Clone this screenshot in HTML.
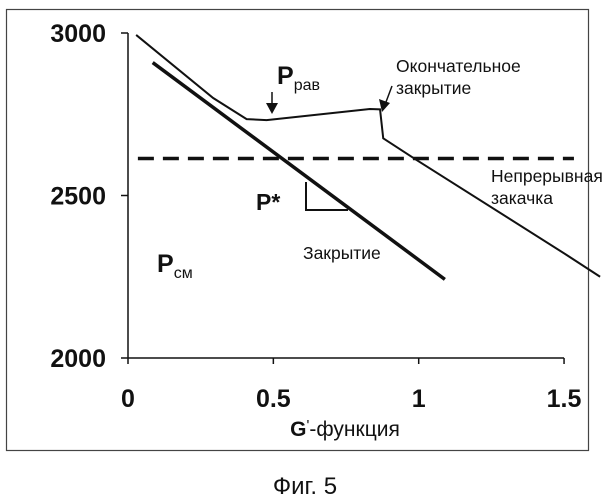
<!DOCTYPE html>
<html><head><meta charset="utf-8"><style>
body{margin:0;background:#fff}
svg{display:block}
text{font-family:"Liberation Sans",Arial,sans-serif;fill:#111}
</style></head><body>
<svg width="612" height="500" viewBox="0 0 612 500">
<rect x="6.5" y="9.5" width="582" height="441" fill="none" stroke="#444" stroke-width="1.2"/>
<g id="axes"></g>
<g id="marks"></g>
<text x="345" y="436" font-size="21" text-anchor="middle"><tspan font-weight="bold">G</tspan><tspan font-size="15" dy="-6">'</tspan><tspan dy="6">-функция</tspan></text>
<text x="305" y="494" font-size="24" text-anchor="middle">Фиг. 5</text>
<text x="277" y="84" font-size="25" font-weight="bold">P<tspan font-size="16" font-weight="normal" dy="6">рав</tspan></text>
<text x="396" y="72" font-size="17.5">Окончательное</text>
<text x="396" y="94" font-size="17.5">закрытие</text>
<text x="491" y="182" font-size="17.5">Непрерывная</text>
<text x="491" y="204" font-size="17.5">закачка</text>
<text x="303" y="259" font-size="17.5">Закрытие</text>
<text x="256" y="210" font-size="23" font-weight="bold">P*</text>
<text x="157" y="272" font-size="25" font-weight="bold">P<tspan font-size="16" font-weight="normal" dy="6">см</tspan></text>
</svg>
<script>
const xTicks=[0,0.5,1,1.5];
const xTickLabels=["0","0.5","1","1.5"];
const yTicks=[2000,2500,3000];
const yTickLabels=["2000","2500","3000"];
const injX=[0.028,0.293,0.408,0.477,0.832,0.867,0.878,0.993,1.509,1.624];
const injY=[2994,2800,2735,2732,2766,2765,2676,2609,2317,2250];
const closeX=[0.085,1.09];
const closeY=[2909,2242];
const dashX=[0.034,1.534];
const dashY=[2614,2614];
const X=v=>128+v*290.7;
const Y=v=>358-(v-2000)*0.325;
const NS="http://www.w3.org/2000/svg";
function mk(tag,attrs,parent){const e=document.createElementNS(NS,tag);for(const k in attrs)e.setAttribute(k,attrs[k]);parent.appendChild(e);return e;}
const ax=document.getElementById('axes'),mg=document.getElementById('marks');
let e=mk('line',{x1:X(0),y1:Y(3000),x2:X(0),y2:Y(2000),stroke:'#111','stroke-width':1.5},ax);


e=mk('line',{x1:X(0),y1:Y(2000),x2:X(1.5),y2:Y(2000),stroke:'#111','stroke-width':1.5},ax);


yTicks.forEach((t,i)=>{
 let l=mk('line',{x1:X(0)-7,y1:Y(t),x2:X(0),y2:Y(t),stroke:'#111','stroke-width':1.5},ax);
 
 
 let tx=mk('text',{x:106,y:Y(t)+9,'font-size':25,'font-weight':'bold','text-anchor':'end'},ax);
 tx.textContent=yTickLabels[i];
 
 
});
xTicks.forEach((t,i)=>{
 let l=mk('line',{x1:X(t),y1:Y(2000),x2:X(t),y2:Y(2000)+6,stroke:'#111','stroke-width':1.5},ax);
 
 
 let tx=mk('text',{x:X(t),y:407,'font-size':25,'font-weight':'bold','text-anchor':'middle'},ax);
 tx.textContent=xTickLabels[i];
 
 
});
const pts=(xs,ys)=>xs.map((x,i)=>X(x)+','+Y(ys[i])).join(' ');
e=mk('polyline',{points:pts(injX,injY),fill:'none',stroke:'#111','stroke-width':2},mg);


e=mk('polyline',{points:pts(closeX,closeY),fill:'none',stroke:'#111','stroke-width':3.5},mg);


e=mk('polyline',{points:pts(dashX,dashY),fill:'none',stroke:'#111','stroke-width':3.5,'stroke-dasharray':'16,9'},mg);


e=mk('polyline',{points:'306,182 306,210 348,210',fill:'none',stroke:'#111','stroke-width':2},mg);


e=mk('line',{x1:272,y1:92,x2:272,y2:105,stroke:'#111','stroke-width':1.5},mg);


e=mk('polygon',{points:'266,103 278,103 272,114',fill:'#111'},mg);


e=mk('line',{x1:392,y1:86,x2:386,y2:102,stroke:'#111','stroke-width':1.5},mg);


e=mk('polygon',{points:'379,99 390,103 382,112',fill:'#111'},mg);


</script>
</body></html>
